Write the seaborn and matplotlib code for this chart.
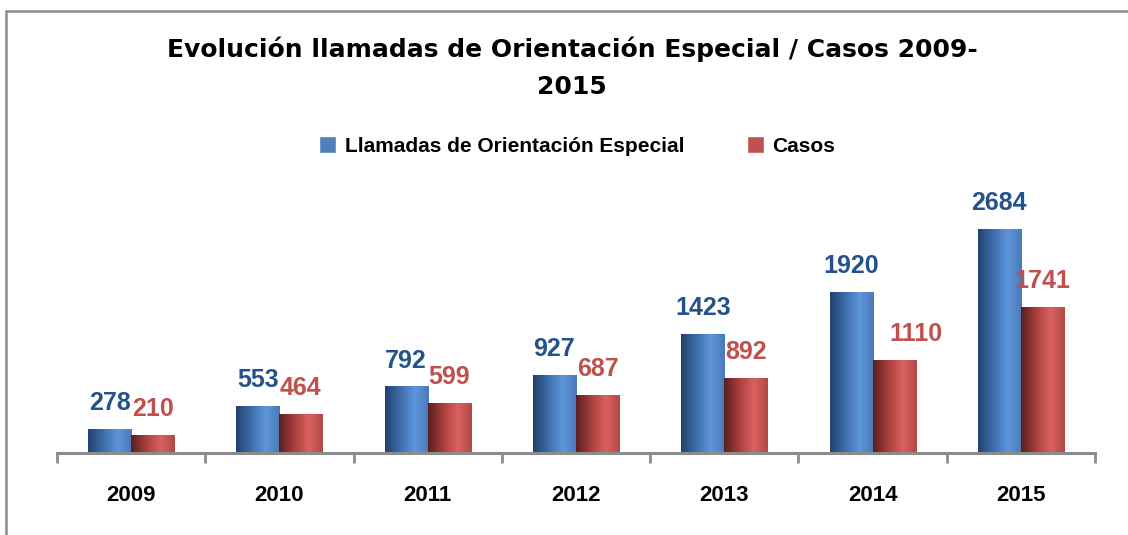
import numpy as np
import pandas as pd
import matplotlib
matplotlib.use("Agg")
import matplotlib.pyplot as plt
from matplotlib.colors import LinearSegmentedColormap
from matplotlib.lines import Line2D
import seaborn as sns

# ==========================
# Data
# ==========================
years = ["2009", "2010", "2011", "2012", "2013", "2014", "2015"]
llamadas = [278, 553, 792, 927, 1423, 1920, 2684]
casos = [210, 464, 599, 687, 892, 1110, 1741]
series_names = ["Llamadas de Orientación Especial", "Casos"]

df = pd.DataFrame({
    "Año": years * 2,
    "Valor": llamadas + casos,
    "Serie": [series_names[0]] * len(years) + [series_names[1]] * len(years),
})

# ==========================
# Style
# ==========================
sns.set_theme(style="white")
narrow = ["Liberation Sans Narrow", "Liberation Sans", "DejaVu Sans"]
plt.rcParams["font.family"] = narrow
plt.rcParams["text.color"] = "black"

blue, red = "#4F81BD", "#C0504D"
label_colors = ["#24538C", "#C0504D"]
# label nudges (points) as in the original chart
label_dx = {("Casos", 5): 16}

fig = plt.figure(figsize=(11.28, 5.35), dpi=100)
ax = fig.add_axes([57 / 1128, 1 - 453 / 535, (1095 - 57) / 1128, 283 / 535])

sns.barplot(data=df, x="Año", y="Valor", hue="Serie", palette=[blue, red],
            width=0.58, gap=0, saturation=1, ax=ax, legend=True)

# cylinder-like shading on bars
cmap_blue = LinearSegmentedColormap.from_list(
    "b", [(0, "#22426F"), (0.35, "#3E6DAA"), (0.68, "#5E96DB"), (1, "#4A79B6")])
cmap_red = LinearSegmentedColormap.from_list(
    "r", [(0, "#5A1E1E"), (0.35, "#A8403E"), (0.68, "#DB615E"), (1, "#B04A47")])
grad = np.linspace(0, 1, 256).reshape(1, -1)

bars = [p for p in ax.patches if p.get_height() > 0]
n = len(years)
for i, p in enumerate(bars):
    x, w, h = p.get_x(), p.get_width(), p.get_height()
    first = i < n
    ax.imshow(grad, extent=[x, x + w, 0, h], aspect="auto",
              cmap=cmap_blue if first else cmap_red,
              zorder=p.get_zorder(), interpolation="bicubic")
    p.set_visible(False)
    vals = llamadas if first else casos
    dx = label_dx.get(("Casos" if not first else "Llamadas", i % n), 0)
    ax.annotate(f"{vals[i % n]}", (x + w / 2, h), xytext=(dx, 19),
                textcoords="offset points", ha="center", va="center",
                fontsize=18, fontweight="bold",
                color=label_colors[0] if first else label_colors[1])

ax.set_xlim(-0.5, n - 0.5)
ax.set_ylim(0, 3391)

# axes styling
for s in ["top", "right", "left"]:
    ax.spines[s].set_visible(False)
ax.spines["bottom"].set_color("#8C8C8C")
ax.spines["bottom"].set_linewidth(2.2)
ax.set_yticks([])
ax.set_xlabel("")
ax.set_ylabel("")
ax.set_xticks(range(n))
ax.set_xticklabels(years, fontsize=16, fontweight="bold", color="black")
ax.set_xticks(np.arange(-0.5, n, 1), minor=True)
ax.tick_params(axis="x", which="major", bottom=True, length=0, pad=23)
ax.tick_params(axis="x", which="minor", bottom=True, length=7, width=2,
               color="#8C8C8C", direction="out")

# legend
handles, labels = ax.get_legend_handles_labels()
ax.legend(handles, series_names, loc="center",
          bbox_to_anchor=(577 / 1128, 1 - 146 / 535),
          bbox_transform=fig.transFigure, ncol=2, frameon=False,
          prop={"family": narrow, "weight": "bold", "size": 15},
          handlelength=0.85, handleheight=0.85, handletextpad=0.4,
          columnspacing=3.0)

# title
fig.text(0.507, 1 - 36 / 535,
         "Evolución llamadas de Orientación Especial / Casos 2009-\n2015",
         ha="center", va="top", fontsize=18, fontweight="bold", color="black",
         family=["DejaVu Sans"], linespacing=1.7)

# outer frame
fig.add_artist(Line2D([6 / 1128, 6 / 1128], [0, 1 - 11 / 535], color="#8C8C8C",
                      lw=1.8, transform=fig.transFigure))
fig.add_artist(Line2D([6 / 1128, 1], [1 - 11 / 535, 1 - 11 / 535], color="#8C8C8C",
                      lw=1.8, transform=fig.transFigure))

fig.savefig("out.png", dpi=100, facecolor="white")
